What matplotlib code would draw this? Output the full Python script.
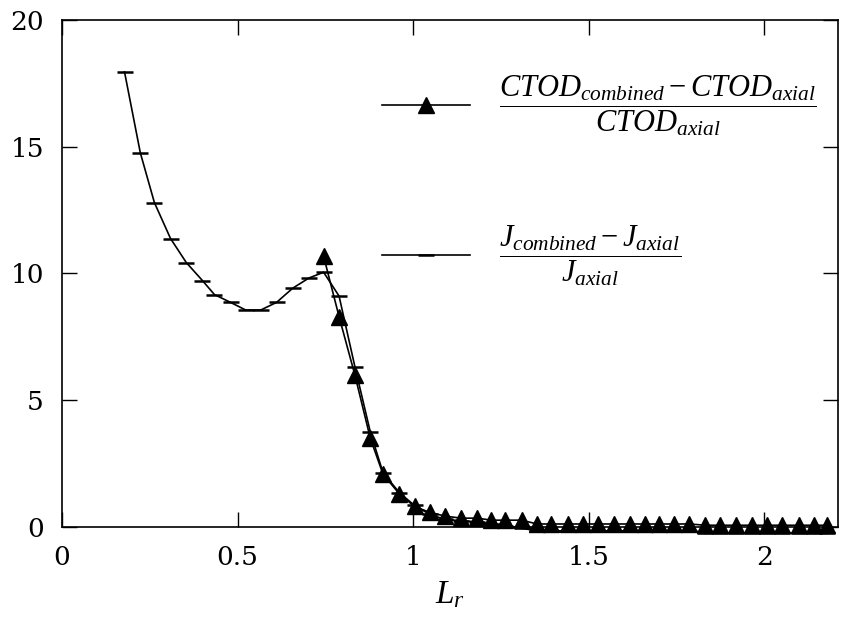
import matplotlib
matplotlib.use("Agg")
import matplotlib.pyplot as plt

plt.rcParams["font.family"] = "DejaVu Serif"
plt.rcParams["mathtext.fontset"] = "custom"
plt.rcParams["mathtext.it"] = "Liberation Serif:italic"
plt.rcParams["mathtext.rm"] = "Liberation Serif"

# L_r values
lr = [0.178, 0.223, 0.263, 0.309, 0.354, 0.400, 0.434, 0.480, 0.523, 0.566,
      0.611, 0.657, 0.703, 0.745, 0.789, 0.834, 0.878, 0.914, 0.961, 1.004,
      1.047, 1.091, 1.137, 1.183, 1.223, 1.263, 1.309, 1.353, 1.394, 1.440,
      1.485, 1.526, 1.572, 1.618, 1.661, 1.699, 1.744, 1.787, 1.832, 1.875,
      1.920, 1.966, 2.009, 2.051, 2.099, 2.142, 2.180]

# (J_combined - J_axial) / J_axial
j_ratio = [17.95, 14.76, 12.80, 11.38, 10.43, 9.72, 9.17, 8.86, 8.56, 8.56,
           8.86, 9.42, 9.82, 10.05, 9.11, 6.33, 3.75, 2.15, 1.35, 0.85,
           0.50, 0.30, 0.25, 0.20, 0.12, 0.05, -0.05, -0.15, -0.15, -0.15,
           -0.15, -0.15, -0.15, -0.15, -0.15, -0.15, -0.15, -0.15, -0.25, -0.25,
           -0.25, -0.25, -0.25, -0.25, -0.25, -0.25, -0.25]

# (CTOD_combined - CTOD_axial) / CTOD_axial, starts at L_r = 0.745
lr_ctod = lr[13:]
ctod_ratio = [10.68, 8.30, 6.00, 3.50, 2.09, 1.30, 0.81, 0.58, 0.43, 0.35,
              0.35, 0.27, 0.27, 0.27, 0.12, 0.12, 0.12, 0.12, 0.12, 0.12,
              0.12, 0.12, 0.12, 0.12, 0.12, 0.07, 0.07, 0.07, 0.07, 0.07,
              0.07, 0.07, 0.07, 0.07]

fig = plt.figure(figsize=(8.65, 6.32), dpi=100)
ax = fig.add_axes([0.0717, 0.1661, 0.8971, 0.8023])

lj, = ax.plot(lr, j_ratio, color="black", lw=1.2, marker="_", ms=12, mew=1.8,
              clip_on=False, zorder=3)
lc, = ax.plot(lr_ctod, ctod_ratio, color="black", lw=1.2, marker="^", ms=12,
              clip_on=False, zorder=4)

ax.set_xlim(0, 2.21)
ax.set_ylim(0, 20)
ax.set_xticks([0, 0.5, 1, 1.5, 2])
ax.set_xticklabels(["0", "0.5", "1", "1.5", "2"])
ax.set_yticks([0, 5, 10, 15, 20])
ax.tick_params(direction="in", length=11, width=1, labelsize=19, pad=13,
               top=True, right=True)
for s in ax.spines.values():
    s.set_linewidth(1.2)

ax.set_xlabel("$L_r$", fontsize=24, labelpad=6)

ax.legend([lc, lj],
          [r"$\dfrac{CTOD_{combined} - CTOD_{axial}}{CTOD_{axial}}$",
           r"$\dfrac{J_{combined} - J_{axial}}{J_{axial}}$"],
          loc="upper left", bbox_to_anchor=(0.412, 0.895), frameon=False,
          fontsize=22, handlelength=2.9, handletextpad=0.95, labelspacing=2.8,
          borderpad=0, borderaxespad=0)

fig.savefig("out.png", dpi=100)
